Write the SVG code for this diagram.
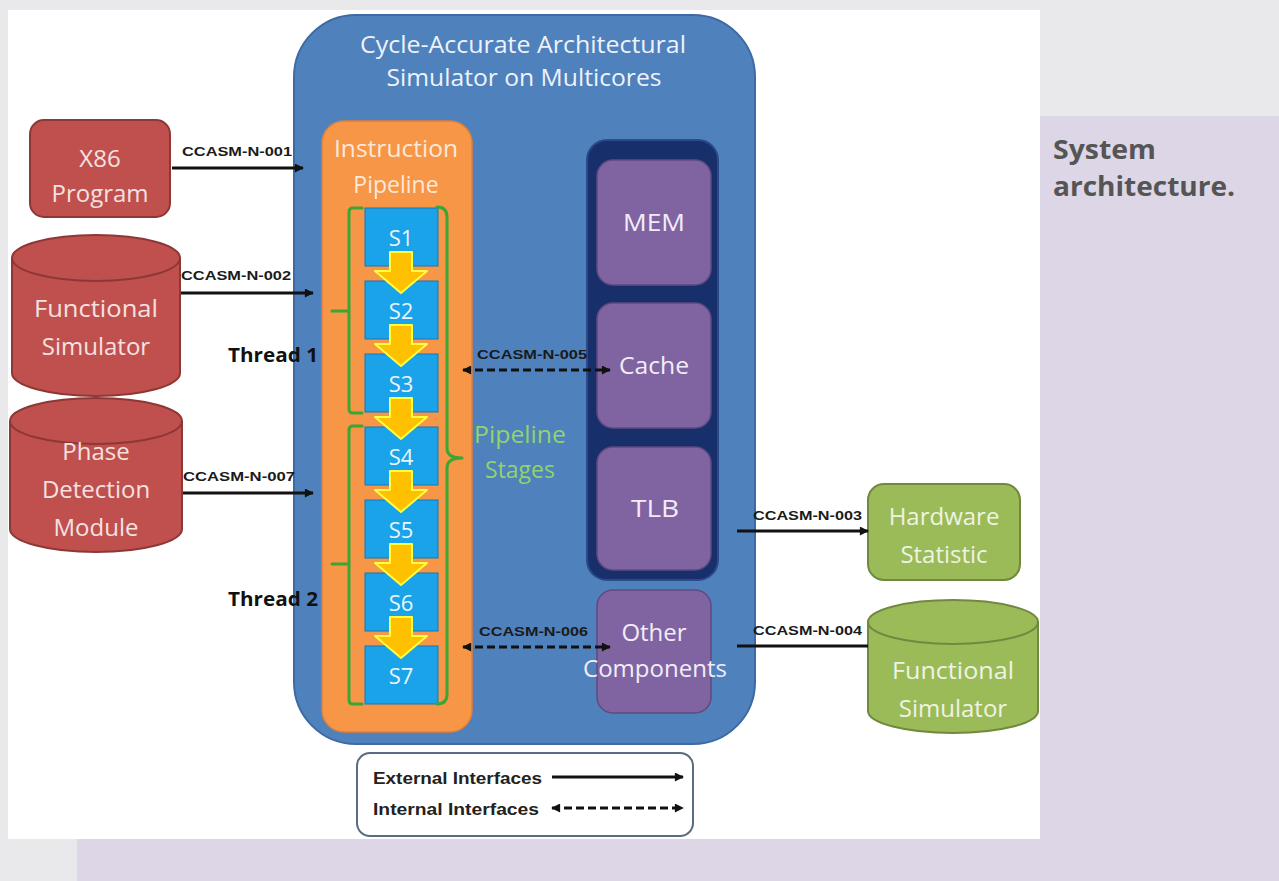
<svg xmlns="http://www.w3.org/2000/svg" width="1279" height="881" viewBox="0 0 1279 881">
<defs>
<style>
.t{font-family:"Open Sans","Liberation Sans",sans-serif;text-anchor:middle}
.lbl{font-family:"Liberation Sans",Arial,sans-serif;font-weight:bold;font-size:13px;fill:#1a1a1a}
.red{fill:#c0504d;stroke:#8c3836;stroke-width:2}
.grn{fill:#9bbb59;stroke:#71893f;stroke-width:2}
.pur{fill:#8064a2;stroke:#5f4a80;stroke-width:1.5}
.stg{fill:#1aa3e8;stroke:#1479b8;stroke-width:1}
.ya{fill:#ffc000;stroke:#ffff40;stroke-width:2;stroke-linejoin:round}
.br{fill:none;stroke:#3aa635;stroke-width:3;stroke-linecap:round;stroke-linejoin:round}
.ext{stroke:#111;stroke-width:3;fill:none}
.int{stroke:#111;stroke-width:3;fill:none;stroke-dasharray:8 4}
</style>
<marker id="ah" viewBox="0 0 10 10" refX="9" refY="5" markerWidth="10" markerHeight="9" markerUnits="userSpaceOnUse" orient="auto-start-reverse">
<path d="M0,0 L10,5 L0,10 Z" fill="#111"/>
</marker>
<polygon id="yarrow" points="390,252 412,252 412,271 427,271 401,293 375,271 390,271"/>
</defs>

<!-- background -->
<rect x="0" y="0" width="1279" height="881" fill="#e9e9ec"/>
<rect x="77" y="116" width="1240" height="820" rx="24" fill="#dcd6e6"/>
<rect x="8" y="10" width="1032" height="829" fill="#ffffff"/>
<g id="caption" font-family="'Open Sans','Liberation Sans',sans-serif" font-weight="bold" font-size="26" fill="#555555">
<text x="1053" y="159" textLength="103" lengthAdjust="spacingAndGlyphs">System</text>
<text x="1053" y="196" textLength="182" lengthAdjust="spacingAndGlyphs">architecture.</text>
</g>

<!-- main simulator box -->
<g id="simulator">
<rect x="294" y="15" width="461" height="729" rx="62" fill="#4f81bd" stroke="#3d6aa3" stroke-width="2"/>
<text class="t" x="523" y="53" font-size="23" fill="#eef2fa" textLength="326" lengthAdjust="spacingAndGlyphs">Cycle-Accurate Architectural</text>
<text class="t" x="524" y="86" font-size="23" fill="#eef2fa" textLength="275" lengthAdjust="spacingAndGlyphs">Simulator on Multicores</text>
</g>

<g id="pipeline">
<rect x="322" y="121" width="150" height="611" rx="22" fill="#f79646" stroke="#e0803a" stroke-width="1.5"/>
<text class="t" x="396" y="157" font-size="23" fill="#fde9d9" textLength="124" lengthAdjust="spacingAndGlyphs">Instruction</text>
<text class="t" x="396" y="193" font-size="23" fill="#fde9d9">Pipeline</text>
</g>

<g id="stages">
<g id="S1"><rect class="stg" x="365" y="208" width="73" height="58"/><text class="t" x="401" y="246" font-size="22" fill="#eaf6ff">S1</text></g>
<g id="S2"><rect class="stg" x="365" y="281" width="73" height="58"/><text class="t" x="401" y="319" font-size="22" fill="#eaf6ff">S2</text></g>
<g id="S3"><rect class="stg" x="365" y="354" width="73" height="58"/><text class="t" x="401" y="392" font-size="22" fill="#eaf6ff">S3</text></g>
<g id="S4"><rect class="stg" x="365" y="427" width="73" height="58"/><text class="t" x="401" y="465" font-size="22" fill="#eaf6ff">S4</text></g>
<g id="S5"><rect class="stg" x="365" y="500" width="73" height="58"/><text class="t" x="401" y="538" font-size="22" fill="#eaf6ff">S5</text></g>
<g id="S6"><rect class="stg" x="365" y="573" width="73" height="58"/><text class="t" x="401" y="611" font-size="22" fill="#eaf6ff">S6</text></g>
<g id="S7"><rect class="stg" x="365" y="646" width="73" height="58"/><text class="t" x="401" y="684" font-size="22" fill="#eaf6ff">S7</text></g>
</g>

<g id="stage-arrows">
<use href="#yarrow" class="ya"/>
<use href="#yarrow" class="ya" transform="translate(0,73)"/>
<use href="#yarrow" class="ya" transform="translate(0,146)"/>
<use href="#yarrow" class="ya" transform="translate(0,219)"/>
<use href="#yarrow" class="ya" transform="translate(0,292)"/>
<use href="#yarrow" class="ya" transform="translate(0,365)"/>
</g>

<g id="brackets">
<path class="br" d="M362 208 H353 Q349 208 349 212 V409 Q349 413 353 413 H362 M332 311 H349"/>
<path class="br" d="M362 426 H353 Q349 426 349 430 V700 Q349 704 353 704 H362 M332 564 H349"/>
<path class="br" d="M437 207 Q447 207 447 217 V448 Q447 458 462 458 Q447 458 447 468 V694 Q447 704 437 704"/>
<text class="t" x="520" y="443" font-size="23" fill="#92d36e" textLength="92" lengthAdjust="spacingAndGlyphs">Pipeline</text>
<text class="t" x="520" y="478" font-size="23" fill="#92d36e">Stages</text>
</g>

<g id="threads" font-family="'Open Sans','Liberation Sans',sans-serif" font-weight="bold" font-size="20" fill="#111">
<text x="228" y="362" textLength="90" lengthAdjust="spacingAndGlyphs">Thread 1</text>
<text x="228" y="606" textLength="90" lengthAdjust="spacingAndGlyphs">Thread 2</text>
</g>

<g id="memory-group">
<rect x="587" y="140" width="131" height="440" rx="20" fill="#17306b" stroke="#2a4a8a" stroke-width="2"/>
</g>
<g id="MEM"><rect class="pur" x="597" y="160" width="114" height="125" rx="16"/><text class="t" x="654" y="231" font-size="24" fill="#f2ecf8" textLength="62" lengthAdjust="spacingAndGlyphs">MEM</text></g>
<g id="Cache"><rect class="pur" x="597" y="303" width="114" height="125" rx="16"/><text class="t" x="654" y="374" font-size="24" fill="#f2ecf8" textLength="70" lengthAdjust="spacingAndGlyphs">Cache</text></g>
<g id="TLB"><rect class="pur" x="597" y="447" width="114" height="123" rx="16"/><text class="t" x="655" y="517" font-size="24" fill="#f2ecf8" textLength="48" lengthAdjust="spacingAndGlyphs">TLB</text></g>
<g id="Other"><rect class="pur" x="597" y="590" width="114" height="123" rx="16"/><text class="t" x="654" y="641" font-size="24" fill="#f2ecf8">Other</text><text class="t" x="655" y="677" font-size="24" fill="#f2ecf8" textLength="144" lengthAdjust="spacingAndGlyphs">Components</text></g>

<!-- external nodes -->
<g id="X86">
<rect class="red" x="30" y="120" width="140" height="97" rx="14"/>
<text class="t" x="100" y="167" font-size="24" fill="#f5e1e0">X86</text>
<text class="t" x="100" y="202" font-size="24" fill="#f5e1e0">Program</text>
</g>
<g id="FuncSimL">
<path class="red" d="M12 258 V373 A84 23 0 0 0 180 373 V258"/>
<ellipse class="red" cx="96" cy="258" rx="84" ry="23"/>
<text class="t" x="96" y="317" font-size="24" fill="#f5e1e0" textLength="124" lengthAdjust="spacingAndGlyphs">Functional</text>
<text class="t" x="96" y="355" font-size="24" fill="#f5e1e0">Simulator</text>
</g>
<g id="Phase">
<path class="red" d="M10 421 V529 A86 23 0 0 0 182 529 V421"/>
<ellipse class="red" cx="96" cy="421" rx="86" ry="23"/>
<text class="t" x="96" y="460" font-size="24" fill="#f5e1e0">Phase</text>
<text class="t" x="96" y="498" font-size="24" fill="#f5e1e0">Detection</text>
<text class="t" x="96" y="536" font-size="24" fill="#f5e1e0">Module</text>
</g>
<g id="HWStat">
<rect class="grn" x="868" y="484" width="152" height="96" rx="16"/>
<text class="t" x="944" y="525" font-size="24" fill="#eef3e2">Hardware</text>
<text class="t" x="944" y="563" font-size="24" fill="#eef3e2">Statistic</text>
</g>
<g id="FuncSimR">
<path class="grn" d="M868 622 V711 A85 22 0 0 0 1038 711 V622"/>
<ellipse class="grn" cx="953" cy="622" rx="85" ry="22"/>
<text class="t" x="953" y="679" font-size="24" fill="#eef3e2" textLength="122" lengthAdjust="spacingAndGlyphs">Functional</text>
<text class="t" x="953" y="717" font-size="24" fill="#eef3e2">Simulator</text>
</g>

<!-- connectors -->
<g id="connectors">
<line class="ext" x1="172" y1="168" x2="303" y2="168" marker-end="url(#ah)"/>
<text class="lbl" x="182" y="156" textLength="110" lengthAdjust="spacingAndGlyphs">CCASM-N-001</text>
<line class="ext" x1="181" y1="293" x2="313" y2="293" marker-end="url(#ah)"/>
<text class="lbl" x="181" y="280" textLength="110" lengthAdjust="spacingAndGlyphs">CCASM-N-002</text>
<line class="ext" x1="183" y1="493" x2="313" y2="493" marker-end="url(#ah)"/>
<text class="lbl" x="183" y="481" textLength="112" lengthAdjust="spacingAndGlyphs">CCASM-N-007</text>
<line class="int" x1="463" y1="370" x2="610" y2="370" marker-start="url(#ah)" marker-end="url(#ah)"/>
<text class="lbl" x="477" y="359" textLength="110" lengthAdjust="spacingAndGlyphs">CCASM-N-005</text>
<line class="int" x1="463" y1="647" x2="610" y2="647" marker-start="url(#ah)" marker-end="url(#ah)"/>
<text class="lbl" x="479" y="636" textLength="109" lengthAdjust="spacingAndGlyphs">CCASM-N-006</text>
<line class="ext" x1="737" y1="531" x2="868" y2="531" marker-end="url(#ah)"/>
<text class="lbl" x="753" y="520" textLength="109" lengthAdjust="spacingAndGlyphs">CCASM-N-003</text>
<line class="ext" x1="737" y1="646" x2="868" y2="646"/>
<text class="lbl" x="753" y="635" textLength="109" lengthAdjust="spacingAndGlyphs">CCASM-N-004</text>
</g>

<!-- legend -->
<g id="legend">
<rect x="357" y="753" width="336" height="83" rx="13" fill="#ffffff" stroke="#5b6b82" stroke-width="2"/>
<text x="373" y="784" font-family="'Liberation Sans',Arial,sans-serif" font-weight="bold" font-size="16" fill="#222" textLength="169" lengthAdjust="spacingAndGlyphs">External Interfaces</text>
<text x="373" y="815" font-family="'Liberation Sans',Arial,sans-serif" font-weight="bold" font-size="16" fill="#222" textLength="166" lengthAdjust="spacingAndGlyphs">Internal Interfaces</text>
<line class="ext" x1="552" y1="777" x2="683" y2="777" marker-end="url(#ah)"/>
<line class="int" x1="552" y1="808" x2="683" y2="808" marker-start="url(#ah)" marker-end="url(#ah)"/>
</g>
</svg>
